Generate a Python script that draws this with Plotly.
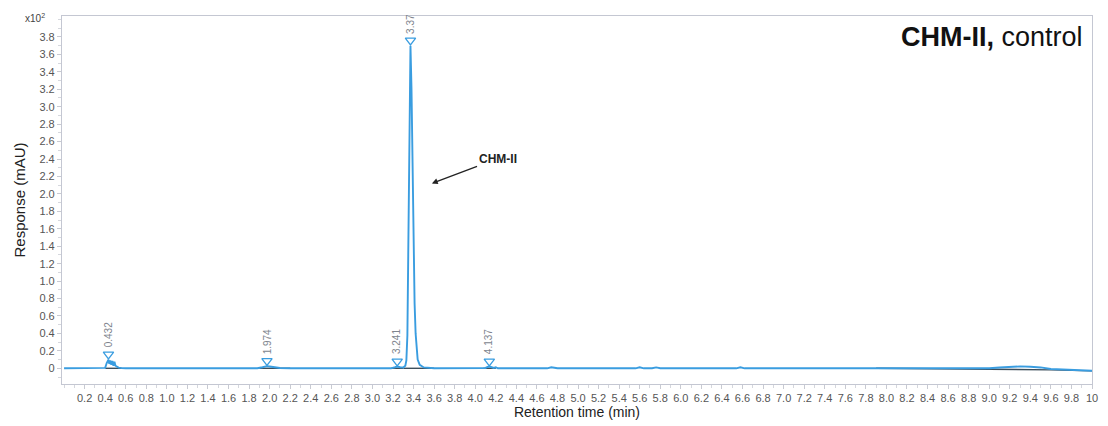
import plotly.graph_objects as go

# Chromatogram trace: retention time (min) vs response (mAU, x10^2)
time_min = [0.00, 0.20, 0.38, 0.40, 0.415, 0.425, 0.432, 0.44, 0.45, 0.46, 0.47, 0.48,
            0.49, 0.50, 0.51, 0.53, 0.56, 0.60, 1.00, 1.50, 1.88, 1.93, 1.95, 1.974,
            2.00, 2.04, 2.10, 2.20, 2.48, 2.51, 2.53, 2.56, 3.00, 3.18, 3.22, 3.241,
            3.27, 3.30, 3.32, 3.33, 3.34, 3.35, 3.36, 3.37, 3.38, 3.39, 3.40, 3.41,
            3.42, 3.43, 3.44, 3.46, 3.50, 3.60, 4.00, 4.10, 4.12, 4.137, 4.16, 4.18,
            4.20, 4.22, 4.70, 4.74, 4.77, 4.80, 5.56, 5.60, 5.64, 5.72, 5.76, 5.80,
            6.00, 6.54, 6.58, 6.62, 7.00, 7.90, 8.50, 9.00, 9.10, 9.20, 9.30, 9.40,
            9.50, 9.60, 9.80, 10.00]
response = [0.000, 0.000, 0.000, 0.005, 0.060, 0.085, 0.100, 0.050, 0.090, 0.040, 0.085, 0.030,
            0.075, 0.030, 0.020, 0.008, 0.002, 0.000, 0.000, 0.000, 0.000, 0.012, 0.020, 0.025,
            0.020, 0.010, 0.003, 0.000, 0.000, -0.008, -0.004, 0.000, 0.000, 0.000, 0.012, 0.020,
            0.012, 0.010, 0.030, 0.090, 0.380, 1.350, 2.900, 3.700, 3.200, 2.200, 1.300, 0.750,
            0.400, 0.200, 0.100, 0.040, 0.010, 0.000, 0.000, 0.004, 0.015, 0.020, 0.012, 0.004,
            0.012, 0.000, 0.000, 0.012, 0.006, 0.000, 0.000, 0.012, 0.000, 0.000, 0.010, 0.000,
            0.000, 0.000, 0.012, 0.000, 0.000, 0.000, 0.000, 0.000, 0.010, 0.018, 0.022, 0.018,
            0.010, -0.008, -0.020, -0.028]

# Integration baselines drawn beneath the peaks
base_time = [0.40, 0.56, None, 1.90, 2.20, None, 3.18, 3.30, None, 3.30, 3.60, None,
             4.08, 4.20, None, 7.90, 9.00, 9.60, 10.00]
base_resp = [0.000, 0.000, None, 0.000, 0.000, None, 0.000, 0.000, None, 0.000, 0.000, None,
             0.000, 0.000, None, 0.000, -0.010, -0.018, -0.030]

# Detected peaks
peak_times = [0.432, 1.974, 3.241, 3.37, 4.137]
peak_heights = [0.100, 0.025, 0.020, 3.700, 0.020]
peak_labels = ["0.432", "1.974", "3.241", "3.37", "4.137"]

# Axis ticks
x_tick_vals = [round(0.2 * i, 1) for i in range(1, 51)]
x_tick_text = [f"{v:.1f}" for v in x_tick_vals[:-1]] + ["10"]
y_tick_vals = [round(0.2 * i, 1) for i in range(0, 20)]
y_tick_text = ["0"] + [f"{v:.1f}" for v in y_tick_vals[1:]]

LINE = "#3a9de0"
FONT = "Liberation Sans, Arial, sans-serif"
marker_offset = 0.06

fig = go.Figure()
fig.add_trace(go.Scatter(x=base_time, y=base_resp, mode="lines",
                         line=dict(color="#3d4f5c", width=1.4), hoverinfo="skip"))
fig.add_trace(go.Scatter(x=time_min, y=response, mode="lines",
                         line=dict(color=LINE, width=1.9)))
fig.add_trace(go.Scatter(x=peak_times, y=[h + marker_offset for h in peak_heights],
                         mode="markers",
                         marker=dict(symbol="triangle-down-open", size=9,
                                     color=LINE, line=dict(width=1.3))))

for t, h, lab in zip(peak_times, peak_heights, peak_labels):
    fig.add_annotation(x=t, y=h + marker_offset, text=lab, textangle=-90,
                       showarrow=False, xanchor="center", yanchor="bottom", yshift=5,
                       font=dict(family=FONT, size=10, color="#80858e"))

# Peak callout with arrow
fig.add_annotation(x=3.578, y=2.12, ax=4.217, ay=2.405, axref="x", ayref="y",
                   text="<b>CHM-II</b>", showarrow=True, arrowhead=2, arrowsize=0.9,
                   arrowwidth=1.3, arrowcolor="#222222", standoff=0,
                   font=dict(family=FONT, size=12, color="#222222"))

# Title inside plot, top right
fig.add_annotation(xref="paper", yref="paper", x=0.993, y=0.99, xanchor="right",
                   yanchor="top", showarrow=False, text="<b>CHM-II,</b> control",
                   font=dict(family=FONT, size=27, color="#111111"))

# Exponent label beside the top of the y axis
fig.add_annotation(xref="paper", yref="paper", x=-0.015, y=0.995, xanchor="right",
                   yanchor="middle", showarrow=False, text="x10<sup>2</sup>",
                   font=dict(family=FONT, size=10, color="#444444"))

axis_common = dict(showline=True, linecolor="#c4c7d2", linewidth=1.2, mirror=True,
                   showgrid=False, zeroline=False, ticks="outside", ticklen=4,
                   tickcolor="#c8cad2", tickfont=dict(family=FONT, size=11, color="#555555"))

fig.update_xaxes(range=[-0.02, 10.0], tickmode="array", tickvals=x_tick_vals,
                 ticktext=x_tick_text, title=dict(text="Retention time (min)", standoff=2,
                 font=dict(family=FONT, size=14, color="#222222")),
                 minor=dict(ticks="outside", ticklen=3, tickcolor="#d5d7dd", dtick=0.1,
                            tick0=0),
                 **axis_common)
fig.update_yaxes(range=[-0.18, 4.04], tickmode="array", tickvals=y_tick_vals,
                 ticktext=y_tick_text, title=dict(text="Response (mAU)", standoff=10,
                 font=dict(family=FONT, size=15, color="#222222")),
                 minor=dict(ticks="outside", ticklen=3, tickcolor="#d5d7dd", dtick=0.1,
                            tick0=0),
                 **axis_common)

fig.update_layout(width=1108, height=426, margin=dict(l=62, r=10, t=16, b=39),
                  plot_bgcolor="white", paper_bgcolor="white", showlegend=False,
                  font=dict(family=FONT))

fig.write_html("out.html")
